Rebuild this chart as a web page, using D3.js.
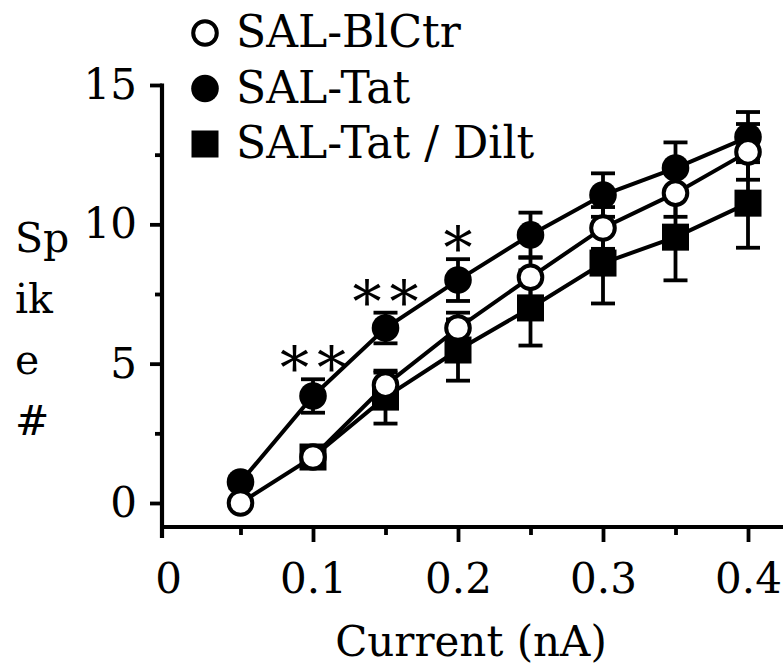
<!DOCTYPE html>
<html>
<head>
<meta charset="utf-8">
<script src="https://cdn.jsdelivr.net/npm/d3@7/dist/d3.min.js"></script>
<style>
  body { margin: 0; background: #fff; }
  text { font-family: "DejaVu Serif", serif; fill: #000; }
</style>
</head>
<body>
<div id="svg-container"></div>
<script>
"use strict";
// current steps (nA)
const currents = [0.05, 0.1, 0.15, 0.2, 0.25, 0.3, 0.35, 0.4];
// SAL-BlCtr (open circles)
const blCtrMean = [0.0, 1.65, 4.23, 6.28, 8.1, 9.87, 11.12, 12.6];
const blCtrSem = [0.15, 0.3, 0.45, 0.55, 0.7, 0.75, 0.85, 1.0];
// SAL-Tat (filled circles)
const tatMean = [0.75, 3.84, 6.28, 8.0, 9.62, 11.05, 12.02, 13.13];
const tatSem = [0.2, 0.6, 0.55, 0.75, 0.8, 0.78, 0.92, 0.9];
// SAL-Tat / Dilt (filled squares), no point at 0.05
const diltMean = [null, 1.65, 3.8, 5.49, 7.0, 8.61, 9.54, 10.76];
const diltSem = [null, 0.25, 0.95, 1.1, 1.35, 1.45, 1.55, 1.6];
// significance marks over SAL-Tat
const sigCurrents = [0.1, 0.15, 0.2];
const sigLabels = ["**", "**", "*"];
const legendLabels = ["SAL-BlCtr", "SAL-Tat", "SAL-Tat / Dilt"];
const xTicks = [0, 0.1, 0.2, 0.3, 0.4];
const xMinorTicks = [0.05, 0.15, 0.25, 0.35];
const yTicks = [0, 5, 10, 15];
const yMinorTicks = [2.5, 7.5, 12.5];

const width = 783, height = 666;
const axisX = 162, axisY = 527;

const svg = d3.select("#svg-container")
    .append("svg")
    .attr("width", width)
    .attr("height", height);

const x = d3.scaleLinear().domain([0, 0.4]).range([168, 748]);
const y = d3.scaleLinear().domain([0, 15]).range([503, 85]);

const series = [
    { name: legendLabels[1], mean: tatMean, sem: tatSem, shape: "filled" },
    { name: legendLabels[2], mean: diltMean, sem: diltSem, shape: "square" },
    { name: legendLabels[0], mean: blCtrMean, sem: blCtrSem, shape: "open" }
];
series.forEach(s => {
    s.points = currents.map((c, i) => ({ c: c, m: s.mean[i], e: s.sem[i] }))
        .filter(p => p.m !== null);
});

// axes
const xAxis = svg.append("g")
    .attr("transform", `translate(0,${axisY})`)
    .call(d3.axisBottom(x).tickValues(xTicks).tickSize(15).tickPadding(21)
        .tickFormat(d => d === 0 ? "0" : d3.format(".1f")(d)));
xAxis.select(".domain").remove();
xAxis.selectAll(".tick line").filter(d => d === 0).remove();
const xMinor = svg.append("g")
    .attr("transform", `translate(0,${axisY})`)
    .call(d3.axisBottom(x).tickValues(xMinorTicks).tickSize(8).tickFormat(""));
xMinor.select(".domain").remove();

const yAxis = svg.append("g")
    .attr("transform", `translate(${axisX},0)`)
    .call(d3.axisLeft(y).tickValues(yTicks).tickSize(12).tickPadding(13));
yAxis.select(".domain").remove();
const yMinor = svg.append("g")
    .attr("transform", `translate(${axisX},0)`)
    .call(d3.axisLeft(y).tickValues(yMinorTicks).tickSize(7).tickFormat(""));
yMinor.select(".domain").remove();

svg.selectAll(".tick line").attr("stroke", "#000").attr("stroke-width", 3.8);
svg.selectAll(".tick text")
    .style("font-family", "'DejaVu Serif', serif")
    .style("font-size", "42px")
    .attr("fill", "#000");

svg.append("line")
    .attr("x1", axisX).attr("x2", axisX)
    .attr("y1", y(15) - 1.5).attr("y2", axisY + 11)
    .attr("stroke", "#000").attr("stroke-width", 4.2);
svg.append("line")
    .attr("x1", axisX).attr("x2", width)
    .attr("y1", axisY).attr("y2", axisY)
    .attr("stroke", "#000").attr("stroke-width", 4.2);

// axis titles
svg.append("text")
    .attr("x", 471)
    .attr("y", 656)
    .attr("text-anchor", "middle")
    .style("font-size", "42px")
    .text("Current (nA)");

const yTitle = svg.append("text")
    .attr("x", 15)
    .attr("y", 252)
    .style("font-size", "41px");
["Sp", "ik", "e", "#"].forEach((t, i) => {
    yTitle.append("tspan").attr("x", 15).attr("dy", i === 0 ? 0 : 61).text(t);
});

// error bars
const capW = 12;
series.forEach(s => {
    const eb = svg.append("g").attr("stroke", "#000").attr("stroke-width", 3.8);
    eb.selectAll("line.v").data(s.points).enter().append("line")
        .attr("x1", d => x(d.c)).attr("x2", d => x(d.c))
        .attr("y1", d => y(d.m - d.e)).attr("y2", d => y(d.m + d.e));
    eb.selectAll("line.top").data(s.points).enter().append("line")
        .attr("x1", d => x(d.c) - capW).attr("x2", d => x(d.c) + capW)
        .attr("y1", d => y(d.m + d.e)).attr("y2", d => y(d.m + d.e));
    eb.selectAll("line.bot").data(s.points).enter().append("line")
        .attr("x1", d => x(d.c) - capW).attr("x2", d => x(d.c) + capW)
        .attr("y1", d => y(d.m - d.e)).attr("y2", d => y(d.m - d.e));
});

// lines
const line = d3.line().x(d => x(d.c)).y(d => y(d.m));
series.forEach(s => {
    svg.append("path")
        .datum(s.points)
        .attr("d", line)
        .attr("fill", "none")
        .attr("stroke", "#000")
        .attr("stroke-width", 4);
});

// markers
function drawMarker(g, shape) {
    if (shape === "square") {
        g.append("rect").attr("x", -13.5).attr("y", -13.5)
            .attr("width", 27).attr("height", 27).attr("fill", "#000");
    } else if (shape === "open") {
        g.append("circle").attr("r", 11.8)
            .attr("fill", "#fff").attr("stroke", "#000").attr("stroke-width", 4);
    } else {
        g.append("circle").attr("r", 13.8).attr("fill", "#000");
    }
}
series.forEach(s => {
    svg.append("g").selectAll("g")
        .data(s.points)
        .enter()
        .append("g")
        .attr("transform", d => `translate(${x(d.c)},${y(d.m)})`)
        .each(function () { drawMarker(d3.select(this), s.shape); });
});

// significance asterisks
svg.selectAll("text.sig")
    .data(sigCurrents)
    .enter()
    .append("text")
    .attr("class", "sig")
    .attr("x", (d, i) => x(d) + (sigLabels[i].length > 1 ? 4 : 0))
    .attr("y", d => {
        const i = currents.indexOf(d);
        return y(tatMean[i] + tatSem[i]) + 9;
    })
    .attr("text-anchor", "middle")
    .style("font-size", "58px")
    .style("letter-spacing", (d, i) => sigLabels[i].length > 1 ? "8px" : "0px")
    .text((d, i) => sigLabels[i]);

// legend
const legendShapes = ["open", "filled", "square"];
const legendItem = svg.append("g").selectAll("g")
    .data(legendLabels)
    .enter()
    .append("g")
    .attr("transform", (d, i) => `translate(0,${47 + i * 55.5})`);
legendItem.append("g")
    .attr("transform", "translate(205,-14)")
    .each(function (d, i) { drawMarker(d3.select(this), legendShapes[i]); });
legendItem.append("text")
    .attr("x", 236)
    .attr("y", 0)
    .style("font-size", "44px")
    .text(d => d);
</script>
</body>
</html>
